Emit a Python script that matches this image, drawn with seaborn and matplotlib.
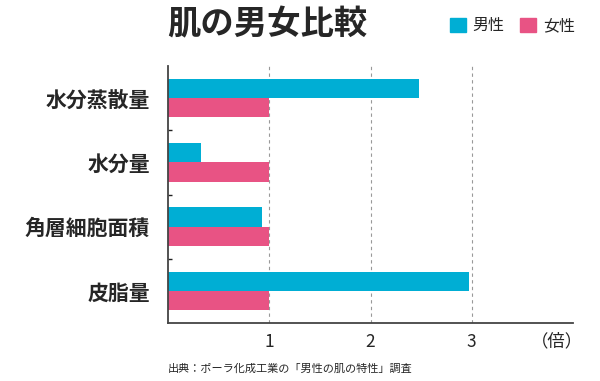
import matplotlib
matplotlib.use("Agg")
from matplotlib import pyplot as plt
from matplotlib.patches import Patch
from matplotlib.ticker import FixedLocator
import pandas as pd
import seaborn as sns

# data
categories = ['水分蒸散量', '水分量', '角層細胞面積', '皮脂量']
male = [2.48, 0.33, 0.93, 2.97]
female = [1.0, 1.0, 1.0, 1.0]
groups = ['男性', '女性']
x_ticks = [1, 2, 3]
colors = ['#00AED4', '#E85384']

df = pd.DataFrame({
    'item': categories * 2,
    'ratio': male + female,
    'sex': [groups[0]] * len(categories) + [groups[1]] * len(categories),
})

sns.set_style('white')
plt.rcParams['font.family'] = ['Noto Sans CJK JP', 'DejaVu Sans']

fig, ax = plt.subplots(figsize=(6, 3.81), dpi=100)
fig.subplots_adjust(left=0.28, right=0.955, top=0.827, bottom=0.152)

sns.barplot(data=df, y='item', x='ratio', hue='sex', order=categories,
            hue_order=groups, palette=colors, orient='h', width=0.6,
            saturation=1, linewidth=0, ax=ax, legend=False)

ax.set_xlim(0, 4)
ax.set_ylim(3.5, -0.5)
ax.set_xticks(x_ticks)
ax.set_xticklabels([str(t) for t in x_ticks], fontsize=12.5)
ax.xaxis.grid(True, color='#999999', linestyle=(0, (3, 3)), linewidth=0.8)
ax.set_axisbelow(True)
ax.set_xlabel('')
ax.set_ylabel('')
ax.tick_params(axis='x', length=0, pad=7)
ax.tick_params(axis='y', which='major', length=0, pad=13)
for lab in ax.get_yticklabels():
    lab.set_fontsize(15)
    lab.set_fontweight('bold')

# small boundary ticks between categories
ax.yaxis.set_minor_locator(FixedLocator([0.5, 1.5, 2.5]))
ax.tick_params(axis='y', which='minor', left=True, direction='in', length=3, width=1, color='#222222')

for side in ['top', 'right']:
    ax.spines[side].set_visible(False)
for side in ['left', 'bottom']:
    ax.spines[side].set_color('#444444')
    ax.spines[side].set_linewidth(1.3)

ax.text(1.025, -0.035, '（倍）', transform=ax.transAxes, ha='right', va='top', fontsize=12.5)

fig.text(0.278, 0.935, '肌の男女比較', fontsize=24, fontweight='bold', va='center', ha='left')

handles = [Patch(color=c, label=g) for c, g in zip(colors, groups)]
fig.legend(handles=handles, loc='center right', bbox_to_anchor=(0.982, 0.932), ncol=2,
           frameon=False, fontsize=11.5, handlelength=1.0, handleheight=1.0,
           handletextpad=0.4, columnspacing=1.0)

fig.text(0.28, 0.02, '出典：ポーラ化成工業の「男性の肌の特性」調査', fontsize=8, ha='left', va='bottom')

fig.savefig('out.png', dpi=100)
